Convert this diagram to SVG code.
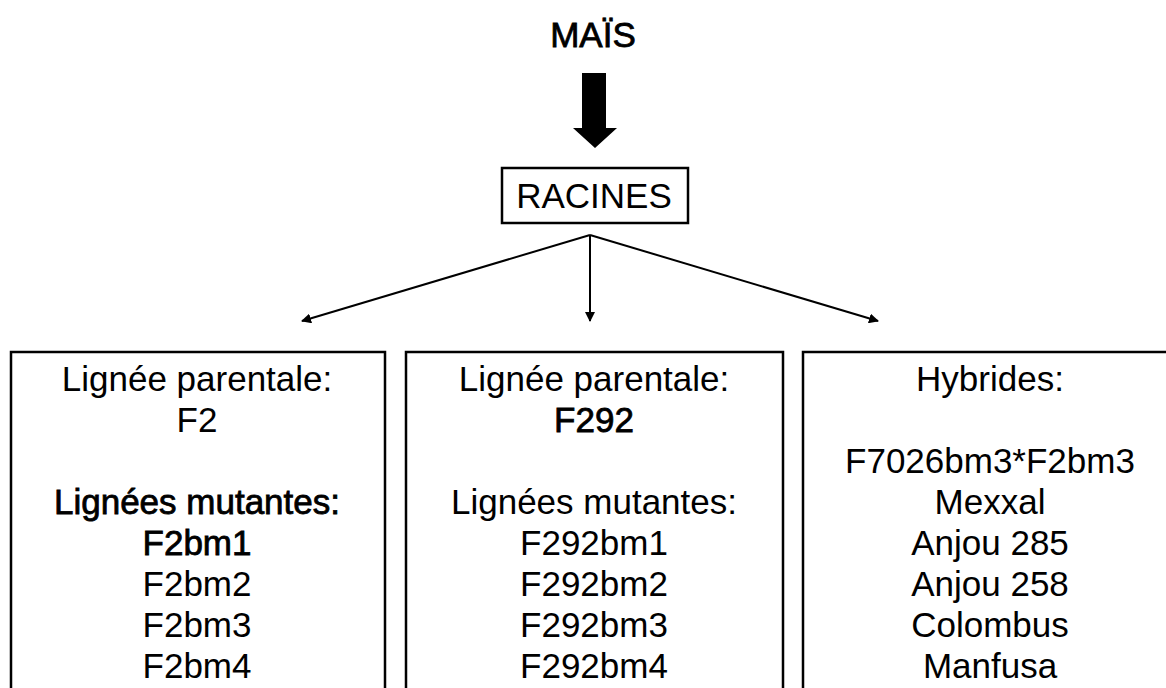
<svg xmlns="http://www.w3.org/2000/svg" width="1166" height="688" viewBox="0 0 1166 688">
<style>
.t{font-family:"Comic Sans MS","Liberation Sans",sans-serif;font-size:35px;fill:#000;text-anchor:middle}
.b{stroke:#000;stroke-width:0.8}
.box{fill:none;stroke:#000;stroke-width:2.5}
.con{stroke:#000;stroke-width:2;fill:none}
</style>
<defs>
<marker id="ah" viewBox="0 0 10 10" refX="9" refY="5" markerWidth="5" markerHeight="5" orient="auto" markerUnits="strokeWidth">
<path d="M0,0 L10,5 L0,10 z" fill="#000"/>
</marker>
</defs>
<rect width="1166" height="688" fill="#fff"/>
<g id="mais">
<text class="t b" x="593" y="47" font-size="32">MAÏS</text>
</g>
<g id="racines">
<rect class="box" x="502" y="168" width="186" height="55"/>
<text class="t" x="594" y="208" font-size="33">RACINES</text>
</g>
<g id="connectors">
<path d="M582,73 H606 V128 H617 L595,148 L573,128 H582 Z" fill="#000"/>
<line class="con" x1="590" y1="235" x2="302" y2="321" marker-end="url(#ah)"/>
<line class="con" x1="590" y1="235" x2="590" y2="321" marker-end="url(#ah)"/>
<line class="con" x1="590" y1="235" x2="878" y2="321" marker-end="url(#ah)"/>
</g>
<g id="box-f2">
<path class="box" d="M11,700 V352 H385 V700"/>
<text class="t" x="197" y="391">Lignée parentale:</text>
<text class="t" x="197" y="432">F2</text>
<text class="t b" x="197" y="514">Lignées mutantes:</text>
<text class="t b" x="197" y="555">F2bm1</text>
<text class="t" x="197" y="596">F2bm2</text>
<text class="t" x="197" y="637">F2bm3</text>
<text class="t" x="197" y="678">F2bm4</text>
</g>
<g id="box-f292">
<path class="box" d="M406,700 V352 H783 V700"/>
<text class="t" x="594" y="391">Lignée parentale:</text>
<text class="t b" x="594" y="432">F292</text>
<text class="t" x="594" y="514">Lignées mutantes:</text>
<text class="t" x="594" y="555">F292bm1</text>
<text class="t" x="594" y="596">F292bm2</text>
<text class="t" x="594" y="637">F292bm3</text>
<text class="t" x="594" y="678">F292bm4</text>
</g>
<g id="box-hybrides">
<path class="box" d="M803,700 V352 H1170"/>
<text class="t" x="990" y="391">Hybrides:</text>
<text class="t" x="990" y="473">F7026bm3*F2bm3</text>
<text class="t" x="990" y="514">Mexxal</text>
<text class="t" x="990" y="555">Anjou 285</text>
<text class="t" x="990" y="596">Anjou 258</text>
<text class="t" x="990" y="637">Colombus</text>
<text class="t" x="990" y="678">Manfusa</text>
</g>
</svg>
